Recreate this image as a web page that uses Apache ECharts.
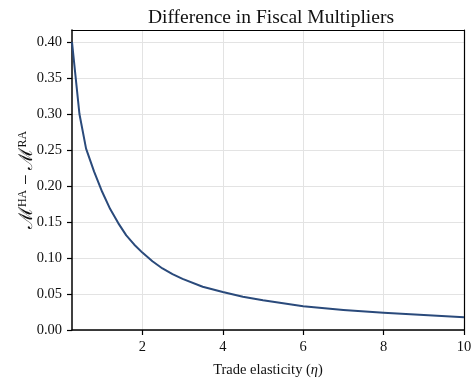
<!DOCTYPE html>
<html>
<head>
<meta charset="utf-8">
<script src="https://cdn.jsdelivr.net/npm/echarts@6/dist/echarts.min.js"></script>
<style>html,body{margin:0;padding:0;background:#fff}#c{width:472px;height:378px}</style>
</head>
<body>
<div id="c"></div>
<script>
const eta = [0.25, 0.435, 0.6, 0.8, 1.0, 1.2, 1.4, 1.6, 1.8, 2.0, 2.25, 2.5, 2.75, 3.0, 3.5, 4.0, 4.5, 5.0, 6.0, 7.0, 8.0, 9.0, 10.0];
const diff = [0.40, 0.30, 0.252, 0.220, 0.192, 0.168, 0.1485, 0.1315, 0.1185, 0.1075, 0.0955, 0.0855, 0.0777, 0.0711, 0.0601, 0.0527, 0.0463, 0.0412, 0.033, 0.0279, 0.024, 0.0208, 0.0177];
const xTicks = [2, 4, 6, 8, 10];
const yTicks = [0, 0.05, 0.10, 0.15, 0.20, 0.25, 0.30, 0.35, 0.40];

const FONT = 'Liberation Serif';
const chart = echarts.init(document.getElementById('c'));
chart.setOption({
  animation: false,
  title: {
    text: 'Difference in Fiscal Multipliers',
    left: 266, top: 3, textAlign: 'center',
    textStyle: {fontFamily: FONT, fontSize: 19.5, fontWeight: 'normal', color: '#111'}
  },
  grid: {left: 72, right: 8, top: 30, bottom: 48, containLabel: false, outerBoundsMode: 'none'},
  xAxis: [{
    type: 'value', min: 0.25, max: 10,
    name: '{a|Trade elasticity (}{i|η}{a|)}',
    nameLocation: 'middle', nameGap: 33, nameMoveOverlap: false,
    nameTextStyle: {rich: {a: {fontFamily: FONT, fontSize: 14.5, color: '#111'}, i: {fontFamily: FONT, fontSize: 14.5, fontStyle: 'italic', color: '#111'}}},
    axisLine: {show: true, lineStyle: {color: '#000', width: 1.5}},
    axisTick: {show: true, length: 5, inside: false, customValues: xTicks, lineStyle: {color: '#000', width: 1.2}},
    axisLabel: {customValues: xTicks, fontFamily: FONT, fontSize: 14.5, color: '#111', margin: 10},
    splitLine: {show: true, lineStyle: {color: '#e3e3e3', width: 1}}
  }, {
    type: 'value', min: 0.25, max: 10, position: 'top',
    axisLine: {show: true, onZero: false, lineStyle: {color: '#000', width: 1.2}},
    axisTick: {show: false}, axisLabel: {show: false}, splitLine: {show: false}
  }],
  yAxis: [{
    type: 'value', min: 0, max: 0.4167,
    name: '{m|ℳ}{s|HA}{m| − ℳ}{s|RA}',
    nameLocation: 'middle', nameGap: 35, nameRotate: 90, nameMoveOverlap: false,
    nameTextStyle: {rich: {
      m: {fontFamily: FONT, fontSize: 19, color: '#111', lineHeight: 20, verticalAlign: 'bottom'},
      s: {fontFamily: FONT, fontSize: 12, color: '#111', lineHeight: 20, verticalAlign: 'top'}
    }},
    axisLine: {show: true, onZero: false, lineStyle: {color: '#000', width: 1.5}},
    axisTick: {show: true, length: 5, customValues: yTicks, lineStyle: {color: '#000', width: 1.2}},
    axisLabel: {customValues: yTicks, fontFamily: FONT, fontSize: 14.5, color: '#111', margin: 10,
      formatter: v => v.toFixed(2)},
    splitLine: {show: true, lineStyle: {color: '#e3e3e3', width: 1}}
  }, {
    type: 'value', min: 0, max: 0.4167, position: 'right',
    axisLine: {show: true, onZero: false, lineStyle: {color: '#000', width: 1.2}},
    axisTick: {show: false}, axisLabel: {show: false}, splitLine: {show: false}
  }],
  series: [{
    type: 'line', xAxisIndex: 0, yAxisIndex: 0,
    data: eta.map((x, i) => [x, diff[i]]),
    smooth: false, showSymbol: false,
    lineStyle: {color: '#2a4a7b', width: 2, join: 'round'}
  }]
});
</script>
</body>
</html>
